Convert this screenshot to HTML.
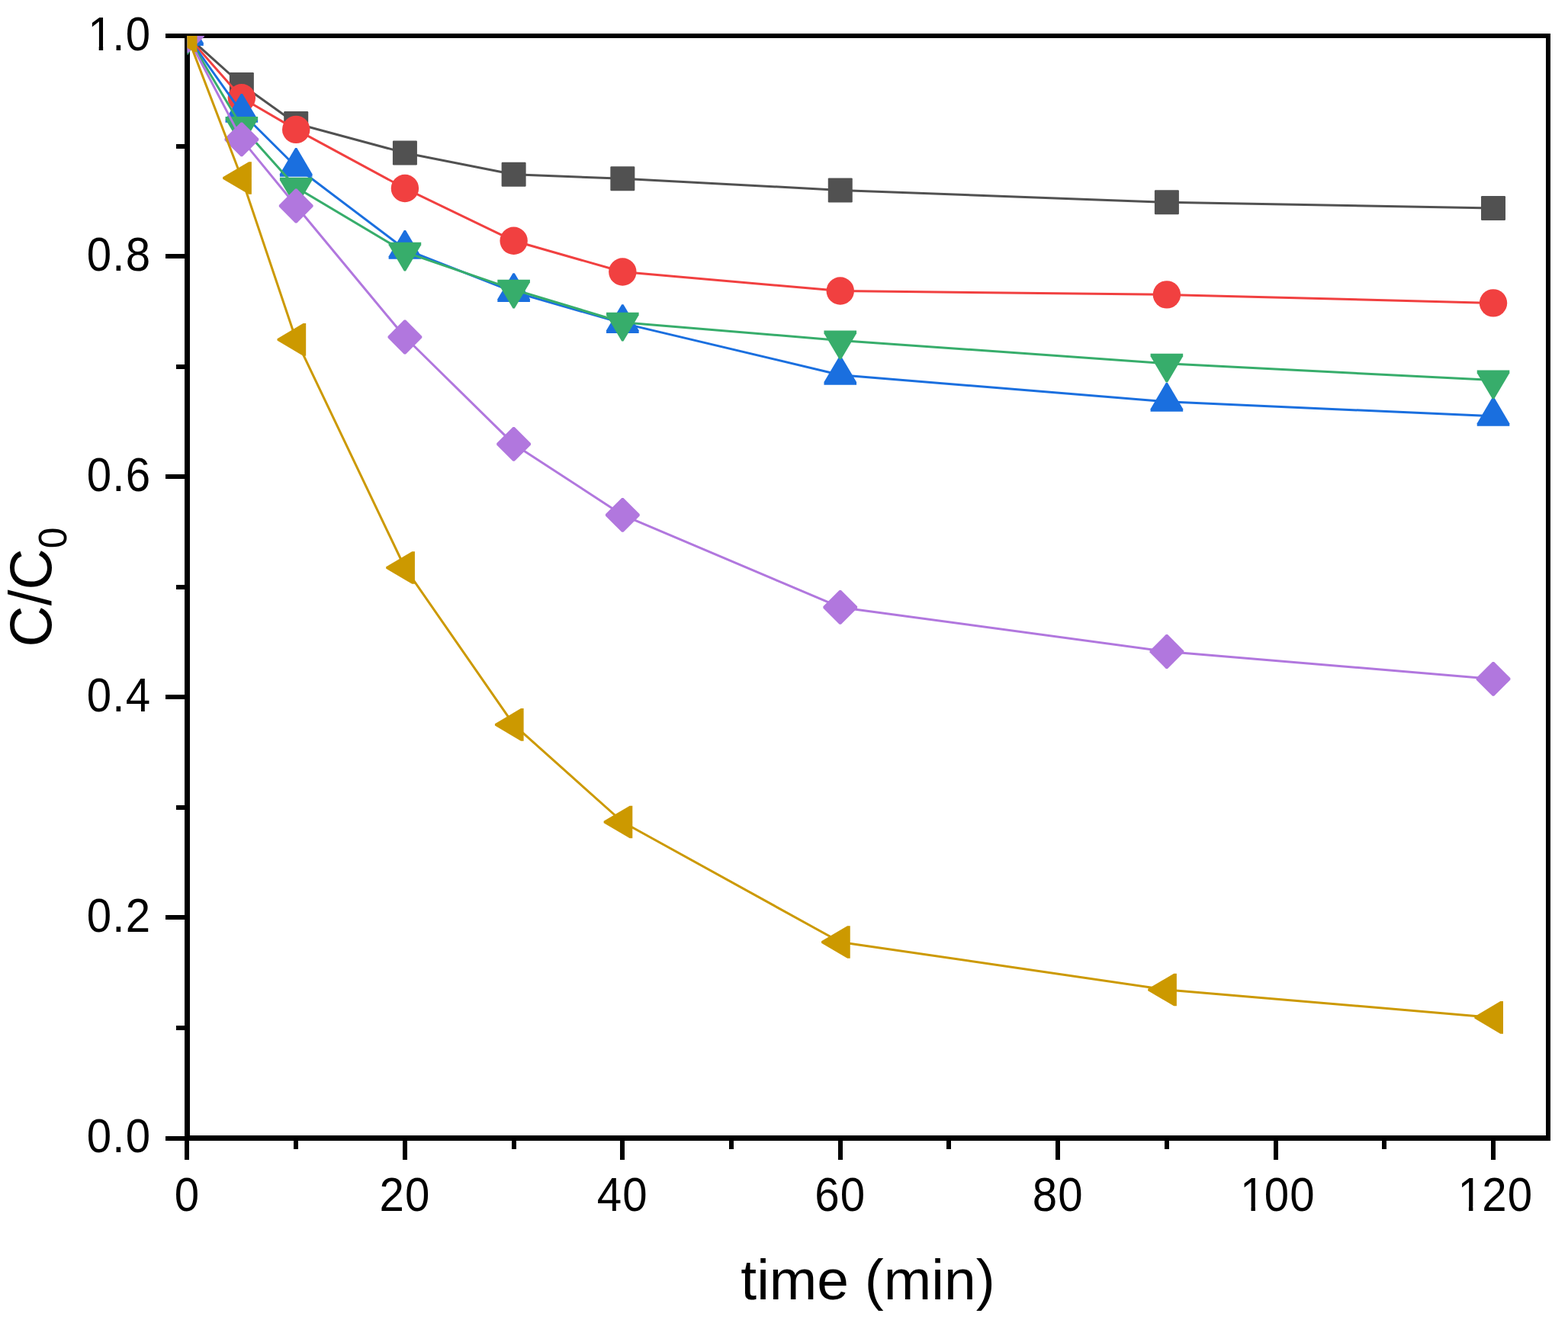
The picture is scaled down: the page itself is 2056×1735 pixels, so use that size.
<!DOCTYPE html>
<html><head><meta charset="utf-8"><style>
html,body{margin:0;padding:0;background:#fff;}
svg{display:block;}
text{font-family:"Liberation Sans",Arial,sans-serif;fill:#000;}
</style></head><body>
<svg width="2056" height="1735" viewBox="0 0 2056 1735">
<rect width="2056" height="1735" fill="#fff"/>
<defs><clipPath id="cp"><rect x="245.5" y="47" width="1784.5" height="1445.5"/></clipPath></defs>
<g fill="#000">
<rect x="242" y="44" width="7" height="1452"/>
<rect x="242" y="1489" width="1791" height="7"/>
<rect x="242" y="44" width="1791" height="6"/>
<rect x="2027" y="44" width="6" height="1452"/>
<rect x="242" y="1492" width="6" height="29"/>
<rect x="385" y="1492" width="6" height="15"/>
<rect x="528" y="1492" width="6" height="29"/>
<rect x="671" y="1492" width="6" height="15"/>
<rect x="813" y="1492" width="6" height="29"/>
<rect x="956" y="1492" width="6" height="15"/>
<rect x="1099" y="1492" width="6" height="29"/>
<rect x="1241" y="1492" width="6" height="15"/>
<rect x="1384" y="1492" width="6" height="29"/>
<rect x="1527" y="1492" width="6" height="15"/>
<rect x="1670" y="1492" width="6" height="29"/>
<rect x="1812" y="1492" width="6" height="15"/>
<rect x="1955" y="1492" width="6" height="29"/>
<rect x="217" y="1490" width="28.5" height="6"/>
<rect x="231" y="1345" width="14.5" height="6"/>
<rect x="217" y="1200" width="28.5" height="6"/>
<rect x="231" y="1056" width="14.5" height="6"/>
<rect x="217" y="911" width="28.5" height="6"/>
<rect x="231" y="767" width="14.5" height="6"/>
<rect x="217" y="622" width="28.5" height="6"/>
<rect x="231" y="478" width="14.5" height="6"/>
<rect x="217" y="333" width="28.5" height="6"/>
<rect x="231" y="189" width="14.5" height="6"/>
<rect x="217" y="44" width="28.5" height="6"/>
</g>
<g clip-path="url(#cp)">
<g fill="#515151"><polyline points="245.5,47 316.86,111 388.21,162 530.92,200.5 673.63,228.8 816.34,234.3 1101.76,249.4 1529.89,265.3 1958.02,273" fill="none" stroke="#515151" stroke-width="3.0" stroke-linejoin="round"/>
<rect x="229.5" y="31" width="32" height="32" rx="1.2"/>
<rect x="300.86" y="95" width="32" height="32" rx="1.2"/>
<rect x="372.21" y="146" width="32" height="32" rx="1.2"/>
<rect x="514.92" y="184.5" width="32" height="32" rx="1.2"/>
<rect x="657.63" y="212.8" width="32" height="32" rx="1.2"/>
<rect x="800.34" y="218.3" width="32" height="32" rx="1.2"/>
<rect x="1085.76" y="233.4" width="32" height="32" rx="1.2"/>
<rect x="1513.89" y="249.3" width="32" height="32" rx="1.2"/>
<rect x="1942.02" y="257" width="32" height="32" rx="1.2"/>
</g>
<g fill="#F14040"><polyline points="245.5,47 316.86,128.3 388.21,169.9 530.92,247 673.63,315.8 816.34,356.5 1101.76,381.5 1529.89,386.4 1958.02,397.4" fill="none" stroke="#F14040" stroke-width="3.0" stroke-linejoin="round"/>
<circle cx="245.5" cy="47" r="18.2"/>
<circle cx="316.86" cy="128.3" r="18.2"/>
<circle cx="388.21" cy="169.9" r="18.2"/>
<circle cx="530.92" cy="247" r="18.2"/>
<circle cx="673.63" cy="315.8" r="18.2"/>
<circle cx="816.34" cy="356.5" r="18.2"/>
<circle cx="1101.76" cy="381.5" r="18.2"/>
<circle cx="1529.89" cy="386.4" r="18.2"/>
<circle cx="1958.02" cy="397.4" r="18.2"/>
</g>
<g fill="#1A6FDF"><polyline points="245.5,47 316.86,147.7 388.21,218.8 530.92,326.8 673.63,382.9 816.34,423.9 1101.76,491.7 1529.89,526.8 1958.02,545.8" fill="none" stroke="#1A6FDF" stroke-width="3.0" stroke-linejoin="round"/>
<polygon points="224.2,60 224.2,56.37 244.37,22.3 246.63,22.3 266.8,56.37 266.8,60"/>
<polygon points="295.56,160.7 295.56,157.07 315.73,123 317.98,123 338.16,157.07 338.16,160.7"/>
<polygon points="366.91,231.8 366.91,228.17 387.08,194.1 389.34,194.1 409.51,228.17 409.51,231.8"/>
<polygon points="509.62,339.8 509.62,336.17 529.79,302.1 532.05,302.1 552.22,336.17 552.22,339.8"/>
<polygon points="652.33,395.9 652.33,392.27 672.5,358.2 674.76,358.2 694.93,392.27 694.93,395.9"/>
<polygon points="795.04,436.9 795.04,433.27 815.21,399.2 817.47,399.2 837.64,433.27 837.64,436.9"/>
<polygon points="1080.46,504.7 1080.46,501.07 1100.63,467 1102.89,467 1123.06,501.07 1123.06,504.7"/>
<polygon points="1508.59,539.8 1508.59,536.17 1528.76,502.1 1531.02,502.1 1551.19,536.17 1551.19,539.8"/>
<polygon points="1936.72,558.8 1936.72,555.17 1956.89,521.1 1959.15,521.1 1979.32,555.17 1979.32,558.8"/>
</g>
<g fill="#37AD6B"><polyline points="245.5,47 316.86,165.9 388.21,245.7 530.92,330.7 673.63,379.7 816.34,422.7 1101.76,446.5 1529.89,476.7 1958.02,498.6" fill="none" stroke="#37AD6B" stroke-width="3.0" stroke-linejoin="round"/>
<polygon points="224.2,34 224.2,37.63 244.37,71.7 246.63,71.7 266.8,37.63 266.8,34"/>
<polygon points="295.56,152.9 295.56,156.53 315.73,190.6 317.98,190.6 338.16,156.53 338.16,152.9"/>
<polygon points="366.91,232.7 366.91,236.33 387.08,270.4 389.34,270.4 409.51,236.33 409.51,232.7"/>
<polygon points="509.62,317.7 509.62,321.33 529.79,355.4 532.05,355.4 552.22,321.33 552.22,317.7"/>
<polygon points="652.33,366.7 652.33,370.33 672.5,404.4 674.76,404.4 694.93,370.33 694.93,366.7"/>
<polygon points="795.04,409.7 795.04,413.33 815.21,447.4 817.47,447.4 837.64,413.33 837.64,409.7"/>
<polygon points="1080.46,433.5 1080.46,437.13 1100.63,471.2 1102.89,471.2 1123.06,437.13 1123.06,433.5"/>
<polygon points="1508.59,463.7 1508.59,467.33 1528.76,501.4 1531.02,501.4 1551.19,467.33 1551.19,463.7"/>
<polygon points="1936.72,485.6 1936.72,489.23 1956.89,523.3 1959.15,523.3 1979.32,489.23 1979.32,485.6"/>
</g>
<g fill="#B177DE"><polyline points="245.5,47 316.86,182.9 388.21,270 530.92,442 673.63,582.4 816.34,675.4 1101.76,796.4 1529.89,854.5 1958.02,890.4" fill="none" stroke="#B177DE" stroke-width="3.0" stroke-linejoin="round"/>
<polygon points="244.4,24.6 246.6,24.6 267.9,45.9 267.9,48.1 246.6,69.4 244.4,69.4 223.1,48.1 223.1,45.9"/>
<polygon points="315.75,160.5 317.96,160.5 339.25,181.8 339.25,184 317.96,205.3 315.75,205.3 294.46,184 294.46,181.8"/>
<polygon points="387.11,247.6 389.31,247.6 410.61,268.9 410.61,271.1 389.31,292.4 387.11,292.4 365.81,271.1 365.81,268.9"/>
<polygon points="529.82,419.6 532.02,419.6 553.32,440.9 553.32,443.1 532.02,464.4 529.82,464.4 508.52,443.1 508.52,440.9"/>
<polygon points="672.53,560 674.73,560 696.03,581.3 696.03,583.5 674.73,604.8 672.53,604.8 651.23,583.5 651.23,581.3"/>
<polygon points="815.24,653 817.44,653 838.74,674.3 838.74,676.5 817.44,697.8 815.24,697.8 793.94,676.5 793.94,674.3"/>
<polygon points="1100.66,774 1102.86,774 1124.16,795.3 1124.16,797.5 1102.86,818.8 1100.66,818.8 1079.36,797.5 1079.36,795.3"/>
<polygon points="1528.79,832.1 1530.99,832.1 1552.29,853.4 1552.29,855.6 1530.99,876.9 1528.79,876.9 1507.49,855.6 1507.49,853.4"/>
<polygon points="1956.92,868 1959.12,868 1980.42,889.3 1980.42,891.5 1959.12,912.8 1956.92,912.8 1935.62,891.5 1935.62,889.3"/>
</g>
<g fill="#CC9900"><polyline points="245.5,47 316.86,233.5 388.21,445.4 530.92,744.5 673.63,950.4 816.34,1078 1101.76,1235.5 1529.89,1298 1958.02,1334.4" fill="none" stroke="#CC9900" stroke-width="3.0" stroke-linejoin="round"/>
<polygon points="258.5,25.7 254.87,25.7 220.8,45.87 220.8,48.13 254.87,68.3 258.5,68.3"/>
<polygon points="329.86,212.2 326.22,212.2 292.16,232.37 292.16,234.63 326.22,254.8 329.86,254.8"/>
<polygon points="401.21,424.1 397.58,424.1 363.51,444.27 363.51,446.53 397.58,466.7 401.21,466.7"/>
<polygon points="543.92,723.2 540.29,723.2 506.22,743.37 506.22,745.63 540.29,765.8 543.92,765.8"/>
<polygon points="686.63,929.1 683,929.1 648.93,949.27 648.93,951.53 683,971.7 686.63,971.7"/>
<polygon points="829.34,1056.7 825.71,1056.7 791.64,1076.87 791.64,1079.13 825.71,1099.3 829.34,1099.3"/>
<polygon points="1114.76,1214.2 1111.13,1214.2 1077.06,1234.37 1077.06,1236.63 1111.13,1256.8 1114.76,1256.8"/>
<polygon points="1542.89,1276.7 1539.26,1276.7 1505.19,1296.87 1505.19,1299.13 1539.26,1319.3 1542.89,1319.3"/>
<polygon points="1971.02,1313.1 1967.39,1313.1 1933.32,1333.27 1933.32,1335.53 1967.39,1355.7 1971.02,1355.7"/>
</g>
</g>
<g font-size="61.0" letter-spacing="1.2">
<text transform="translate(198.2,1510.7) scale(0.955,1.045)" text-anchor="end">0.0</text>
<text transform="translate(198.2,1221.69) scale(0.955,1.045)" text-anchor="end">0.2</text>
<text transform="translate(198.2,932.68) scale(0.955,1.045)" text-anchor="end">0.4</text>
<text transform="translate(198.2,643.67) scale(0.955,1.045)" text-anchor="end">0.6</text>
<text transform="translate(198.2,354.66) scale(0.955,1.045)" text-anchor="end">0.8</text>
<text transform="translate(198.2,65.65) scale(0.955,1.045)" x="-88.4"><tspan dx="1.5">1</tspan><tspan dx="-1.5">.0</tspan></text>
<text transform="translate(245.5,1588) scale(0.955,1.045)" text-anchor="middle">0</text>
<text transform="translate(530.92,1588) scale(0.955,1.045)" text-anchor="middle">20</text>
<text transform="translate(816.34,1588) scale(0.955,1.045)" text-anchor="middle">40</text>
<text transform="translate(1101.76,1588) scale(0.955,1.045)" text-anchor="middle">60</text>
<text transform="translate(1387.18,1588) scale(0.955,1.045)" text-anchor="middle">80</text>
<text transform="translate(1674.6,1588) scale(0.955,1.045)" x="-52.69"><tspan dx="1.8">1</tspan><tspan dx="-1.8">00</tspan></text>
<text transform="translate(1960.02,1588) scale(0.955,1.045)" x="-52.69"><tspan dx="1.8">1</tspan><tspan dx="-1.8">20</tspan></text>
</g>
<g transform="translate(198.2,65.65) scale(0.955,1.045)" fill="#fff"><rect x="-83.45" y="-5.56" width="11.74" height="6.76"/><rect x="-66.02" y="-5.56" width="11.27" height="6.76"/></g>
<g transform="translate(1674.6,1588) scale(0.955,1.045)" fill="#fff"><rect x="-47.44" y="-5.56" width="11.74" height="6.76"/><rect x="-30.01" y="-5.56" width="11.27" height="6.76"/></g>
<g transform="translate(1960.02,1588) scale(0.955,1.045)" fill="#fff"><rect x="-47.44" y="-5.56" width="11.74" height="6.76"/><rect x="-30.01" y="-5.56" width="11.27" height="6.76"/></g>
<text x="1138" y="1704.2" font-size="75" text-anchor="middle">time (min)</text>
<text transform="translate(67.25,770) rotate(-90) scale(1,1.035)" font-size="75" text-anchor="middle">C/C<tspan font-size="49.7" dy="19.4">0</tspan></text>
</svg>
</body></html>
